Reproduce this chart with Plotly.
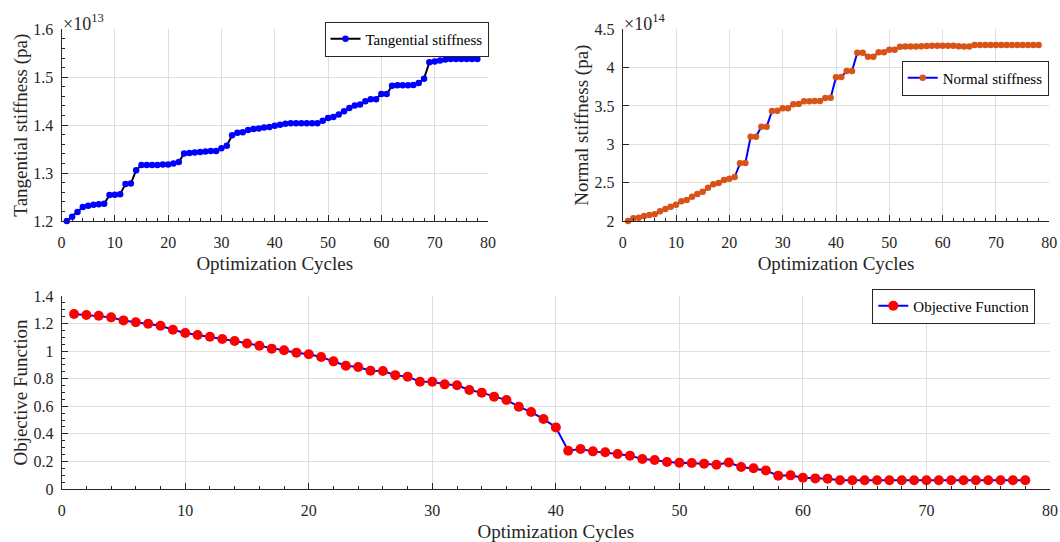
import plotly.graph_objects as go

# Optimization history: cycle index and the three tracked quantities
cycles = list(range(1, 79))

# Tangential stiffness, in units of 1e13 Pa
tangential_e13 = [
    1.200, 1.209, 1.219, 1.229, 1.232, 1.234, 1.235, 1.236, 1.254, 1.255,
    1.256, 1.277, 1.278, 1.306, 1.317, 1.317, 1.317, 1.317, 1.318, 1.318,
    1.320, 1.323, 1.341, 1.342, 1.343, 1.344, 1.345, 1.346, 1.346, 1.352,
    1.357, 1.379, 1.384, 1.385, 1.390, 1.392, 1.393, 1.395, 1.396, 1.399,
    1.401, 1.403, 1.404, 1.404, 1.404, 1.404, 1.404, 1.404, 1.409, 1.415,
    1.417, 1.422, 1.429, 1.436, 1.441, 1.443, 1.450, 1.454, 1.454, 1.465,
    1.465, 1.482, 1.483, 1.483, 1.483, 1.484, 1.488, 1.497, 1.531, 1.533,
    1.535, 1.537, 1.538, 1.538, 1.538, 1.538, 1.538, 1.538,
]

# Normal stiffness, in units of 1e14 Pa
normal_e14 = [
    2.000, 2.035, 2.043, 2.065, 2.078, 2.087, 2.126, 2.156, 2.187, 2.213,
    2.257, 2.274, 2.317, 2.352, 2.382, 2.434, 2.478, 2.496, 2.535, 2.552,
    2.574, 2.752, 2.756, 3.099, 3.099, 3.230, 3.230, 3.435, 3.439, 3.470,
    3.470, 3.522, 3.526, 3.561, 3.561, 3.565, 3.565, 3.605, 3.608, 3.874,
    3.878, 3.956, 3.956, 4.195, 4.195, 4.143, 4.143, 4.200, 4.200, 4.234,
    4.234, 4.273, 4.275, 4.275, 4.276, 4.278, 4.283, 4.285, 4.287, 4.287,
    4.287, 4.285, 4.280, 4.277, 4.277, 4.296, 4.296, 4.296, 4.296, 4.296,
    4.296, 4.296, 4.296, 4.296, 4.296, 4.296, 4.296, 4.296,
]

# Objective function value per cycle
objective = [
    1.269, 1.262, 1.257, 1.245, 1.223, 1.209, 1.199, 1.184, 1.155, 1.131,
    1.117, 1.105, 1.088, 1.073, 1.056, 1.039, 1.018, 1.006, 0.989, 0.977,
    0.957, 0.926, 0.894, 0.885, 0.858, 0.856, 0.826, 0.815, 0.778, 0.778,
    0.759, 0.752, 0.718, 0.699, 0.670, 0.645, 0.597, 0.558, 0.508, 0.447,
    0.278, 0.290, 0.273, 0.266, 0.254, 0.242, 0.218, 0.210, 0.196, 0.191,
    0.189, 0.184, 0.176, 0.192, 0.160, 0.150, 0.135, 0.097, 0.099, 0.082,
    0.077, 0.075, 0.064, 0.064, 0.064, 0.064, 0.064, 0.064, 0.064, 0.064,
    0.064, 0.064, 0.064, 0.064, 0.064, 0.064, 0.064, 0.064,
]

x_ticks = [0, 10, 20, 30, 40, 50, 60, 70, 80]
tan_ticks = [1.2, 1.3, 1.4, 1.5, 1.6]
tan_ticklabels = ["1.2", "1.3", "1.4", "1.5", "1.6"]
norm_ticks = [2, 2.5, 3, 3.5, 4, 4.5]
norm_ticklabels = ["2", "2.5", "3", "3.5", "4", "4.5"]
obj_ticks = [0, 0.2, 0.4, 0.6, 0.8, 1.0, 1.2, 1.4]
obj_ticklabels = ["0", "0.2", "0.4", "0.6", "0.8", "1", "1.2", "1.4"]

W, H = 1060, 542
FONT = "Liberation Serif, Times New Roman, serif"
INK = "#262626"
GRID = "#dedede"


def px_x(p):
    return p / W


def px_y(p):
    return (H - p) / H


fig = go.Figure()

fig.add_trace(go.Scatter(
    x=cycles, y=tangential_e13, mode="lines+markers", name="Tangential stiffness",
    line=dict(color="black", width=2), marker=dict(color="#0000ff", size=6.5),
    xaxis="x", yaxis="y", legend="legend", cliponaxis=False,
))
fig.add_trace(go.Scatter(
    x=cycles, y=normal_e14, mode="lines+markers", name="Normal stiffness",
    line=dict(color="#0000ff", width=2), marker=dict(color="#d95319", size=6.5),
    xaxis="x2", yaxis="y2", legend="legend2", cliponaxis=False,
))
fig.add_trace(go.Scatter(
    x=cycles, y=objective, mode="lines+markers", name="Objective Function",
    line=dict(color="#0000ff", width=2), marker=dict(color="#ff0000", size=10),
    xaxis="x3", yaxis="y3", legend="legend3", cliponaxis=False,
))


def x_axis(domain, anchor):
    return dict(
        domain=domain, anchor=anchor, range=[0, 80], tickvals=x_ticks,
        ticks="inside", ticklen=6, tickwidth=1, tickcolor=INK,
        showline=True, linecolor=INK, linewidth=1, mirror=False,
        showgrid=True, gridcolor=GRID, gridwidth=1, zeroline=False,
        minor=dict(ticks="inside", dtick=2, ticklen=3, tickcolor=INK, showgrid=False),
        tickfont=dict(family=FONT, size=16, color=INK), ticklabelstandoff=7,
        title=dict(text="Optimization Cycles", font=dict(family=FONT, size=19, color=INK), standoff=6),
        automargin=False, fixedrange=True,
    )


def y_axis(domain, anchor, rng, vals, labels, minor_dtick, title):
    ax = dict(
        domain=domain, anchor=anchor, range=rng, tickvals=vals, ticktext=labels,
        ticks="inside", ticklen=6, tickwidth=1, tickcolor=INK,
        showline=True, linecolor=INK, linewidth=1, mirror=False,
        showgrid=True, gridcolor=GRID, gridwidth=1, zeroline=False,
        tickfont=dict(family=FONT, size=16, color=INK), ticklabelstandoff=4,
        title=dict(text=title, font=dict(family=FONT, size=19, color=INK), standoff=0),
        automargin=False, fixedrange=True,
    )
    if minor_dtick:
        ax["minor"] = dict(ticks="inside", dtick=minor_dtick, ticklen=3, tickcolor=INK, showgrid=False)
    return ax


top_y = [px_y(221), px_y(29.3)]
bot_y = [px_y(489), px_y(296)]

legend_style = dict(
    font=dict(family=FONT, size=15, color="black"),
    bgcolor="white", bordercolor=INK, borderwidth=1,
    xref="paper", yref="paper", xanchor="right", yanchor="top",
    tracegroupgap=0, itemsizing="trace",
)

fig.update_layout(
    width=W, height=H,
    margin=dict(l=0, r=0, t=0, b=0),
    paper_bgcolor="white", plot_bgcolor="white",
    font=dict(family=FONT, color=INK),
    xaxis=x_axis([px_x(61.5), px_x(488)], "y"),
    yaxis=y_axis(top_y, "x", [1.2, 1.6], tan_ticks, tan_ticklabels, 0.02,
                 "Tangential stiffness (pa)"),
    xaxis2=x_axis([px_x(622.7), px_x(1049.3)], "y2"),
    yaxis2=y_axis(top_y, "x2", [2, 4.5], norm_ticks, norm_ticklabels, None,
                  "Normal stiffness (pa)"),
    xaxis3=x_axis([px_x(61.7), px_x(1050)], "y3"),
    yaxis3=y_axis(bot_y, "x3", [0, 1.4], obj_ticks, obj_ticklabels, 0.05,
                  "Objective Function"),
    legend=dict(x=px_x(488.5), y=px_y(21.5), **legend_style),
    legend2=dict(x=px_x(1048.7), y=px_y(60.5), **legend_style),
    legend3=dict(x=px_x(1035.3), y=px_y(288.5), **legend_style),
    showlegend=True,
    annotations=[
        dict(text="×10<sup>13</sup>", x=px_x(61), y=px_y(36), xref="paper", yref="paper",
             xanchor="left", yanchor="bottom", showarrow=False,
             font=dict(family=FONT, size=18, color=INK)),
        dict(text="×10<sup>14</sup>", x=px_x(622), y=px_y(36), xref="paper", yref="paper",
             xanchor="left", yanchor="bottom", showarrow=False,
             font=dict(family=FONT, size=18, color=INK)),
    ],
)

fig.write_html("out.html")
